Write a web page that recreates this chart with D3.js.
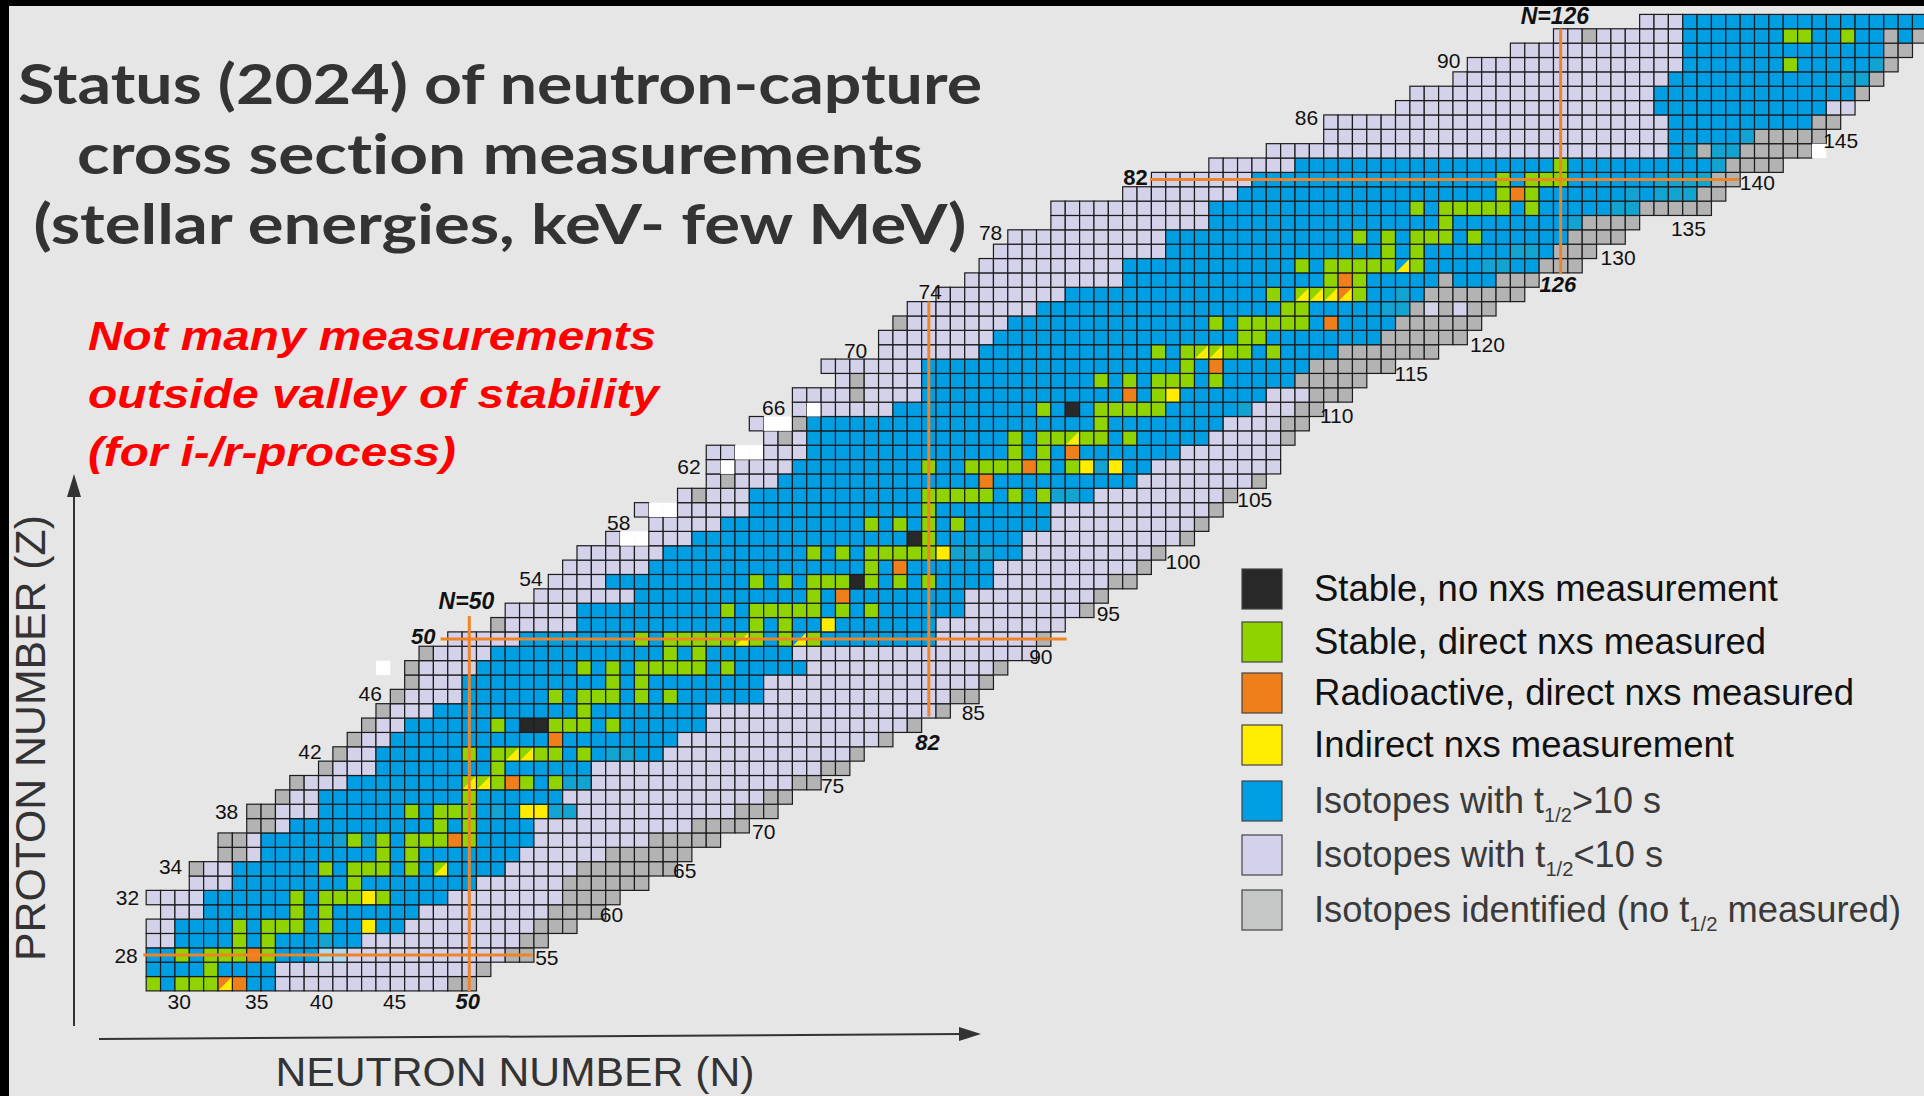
<!DOCTYPE html>
<html><head><meta charset="utf-8">
<script src="https://cdn.jsdelivr.net/npm/d3@7"></script>
<style>
html,body{margin:0;padding:0;background:#e6e6e6;}
svg{display:block;}
</style></head><body>
<svg id="chart" width="1924" height="1096"></svg>
<script>
// ---------------- DATA ----------------
const rowZ = d3.range(26, 94);
const rowStart = [28,28,28,28,28,29,28,31,31,33, 33,35,35,37,38,40,41,42,43,44, 45,46,46,47,49,52,53,55,56,57,
  58,60,63,62,65,67,67,67,71,70, 73,73,76,75,79,79,80,81,83,85, 86,87,88,91,91,96,98,102,106,110, 110,115,116,119,120,123,126,132];
const rowLeftGray = [0,0,0,0,0,0,0,0,1,2, 2,2,2,1,1,1,1,1,1,1, 1,1,1,1,0,1,0,0,0,0,
  0,0,0,0,0,0,0,0,0,0, 0,0,0,0,0,0,1,0,0,0, 0,0,0,0,0,0,0,0,0,0, 0,0,0,0,0,0,0,0];
const rowBlueFirst = [28,28,28,30,30,32,32,34,34,36, 36,38,40,40,42,44,44,45,46,48, 50,50,51,52,54,58,58,62,60,63,
  64,66,68,70,70,72,73,74,74,74, 80,82,82,82,86,87,88,90,92,96, 96,99,99,102,102,104,105,108,134,134, 134,133,133,134,135,135,135,135];
const rowBlueLast = [36,36,41,42,45,46,48,50,52,53, 54,54,57,56,58,58,63,64,66,66, 70,70,73,72,82,82,84,84,86,86,
  88,88,90,90,93,96,97,99,101,102, 104,105,107,108,110,113,114,115,116,121, 124,125,126,127,131,135,136,137,138,139, 143,144,146,147,148,148,148,153];
const rowGrayFirst = [49,51,53,54,55,56,57,57,58,60, 63,66,69,71,73,75,77,79,81,83, 84,86,87,90,90,92,93,94,95,97,
  98,100,101,102,103,105,107,107,107,107, 108,109,108,109,111,114,115,116,117,122, 125,126,127,128,132,136,137,138,139,140, 144,147,147,148,149,149,149,154];
const rowEnd = [50,51,54,55,57,59,60,62,64,65, 67,69,71,72,74,76,77,79,81,83, 85,86,87,89,90,91,93,94,96,97,
  98,100,101,102,103,105,106,106,107,108, 109,111,112,114,117,119,120,121,123,124, 127,128,130,131,136,137,138,141,143,144, 145,146,147,148,149,150,151,153];

// [Z, [N of stable isotopes with direct measurement]]
const stableIsotopes = [
 [26,[28,30,31,32]],[27,[32]],[28,[30,32,33,34,36]],[29,[34,36]],[30,[34,36,37,38,40]],
 [31,[38,40]],[32,[38,40,41,42,44]],[33,[42]],[34,[40,42,43,44,46]],[35,[44,46]],
 [36,[42,44,46,47,48,50]],[37,[48,50]],[38,[46,48,49,50]],[39,[50]],[40,[52,54,56]],
 [41,[52]],[42,[50,52,55,56,58]],[44,[52,54,55,56,57,58,60]],[45,[58]],[46,[56,58,59,60,62,64]],
 [47,[60,62]],[48,[58,60,62,63,64,65,66,68]],[49,[64,66]],[50,[62,64,65,66,67,68,70,72,74]],
 [51,[70,72]],[52,[68,70,71,72,73,74,76,78]],[53,[74]],[54,[70,72,74,75,76,78,80,82]],
 [55,[78]],[56,[74,76,78,79,80,81,82]],[57,[82]],[58,[78,80,82,84]],[59,[82]],
 [60,[82,83,84,85,86,88,90]],[62,[82,85,86,87,88,90,92]],[63,[88,90]],[64,[88,90,91,93,94,96]],
 [65,[94]],[66,[90,94,95,96,97,98]],[67,[98]],[68,[94,96,98,99,100,102]],[69,[100]],
 [70,[98,100,103,104,106]],[71,[104,105]],[72,[102,104,105,106,107,108]],[73,[107,108]],
 [74,[106,112]],[75,[110,112]],[76,[108,110,111,112,113,114,116]],[77,[114,116]],
 [78,[112,114,116,117,118,120]],[79,[118]],[80,[116,118,119,120,121,122,124]],[81,[122,124]],
 [82,[122,124,125,126]],[83,[126]],[90,[142]],[92,[142,143,146]]
];
// [N, Z]
const stableNoMeasurement = [[54,44],[55,44],[77,54],[81,57],[92,66]];
const radioactiveMeasured = [[34,26],[35,28],[49,36],[53,40],[56,43],[76,53],[80,55],[86,61],[89,62],[92,63],
  [96,67],[102,69],[110,72],[111,75],[123,81]];
const indirectMeasured = [[43,30],[43,32],[54,38],[55,38],[75,51],[83,56],[93,62],[95,62],[99,67]];
// cells carrying an indirect-measurement corner: [N, Z, base category]
const splitCells = [[33,26,'O'],[48,34,'G'],[50,40,'G'],[51,40,'G'],[53,42,'G'],[54,42,'G'],[69,50,'G'],[73,50,'B'],
  [92,64,'G'],[101,70,'G'],[102,70,'G'],[108,74,'G'],[109,74,'G'],[110,74,'G'],[111,74,'O'],[115,76,'B']];
// individual cells differing from their row pattern: [N, Z, category]
const cellOverrides = [
 [40,28,'P'],[41,28,'P'],
 [40,29,'T'],[41,36,'T'],[43,36,'T'],[52,38,'T'],[56,38,'T'],[57,38,'T'],[57,40,'T'],[58,40,'T'],[60,42,'T'],[61,42,'T'],
 [84,56,'T'],[85,56,'T'],[86,56,'T'],[91,60,'T'],[92,60,'T'],[94,62,'T'],[104,66,'T'],[114,73,'T'],[115,73,'T'],[115,74,'T'],
 [121,76,'T'],[122,76,'T'],[123,77,'T'],[124,77,'T'],[127,79,'T'],[130,80,'T'],[131,80,'T'],
 [131,81,'T'],[133,81,'T'],[134,81,'T'],[135,81,'T'],[133,82,'T'],[134,82,'T'],[135,82,'T'],[136,82,'T'],
 [137,83,'T'],[135,84,'T'],[137,84,'T'],[138,84,'T'],[139,85,'T'],[146,89,'T'],[147,89,'T'],[148,90,'T'],
 [66,60,'R'],[68,61,'R'],[72,64,'R'],[73,65,'R'],[77,67,'R'],[77,68,'R'],[118,75,'R'],[136,84,'R'],[128,92,'R'],
 [117,73,'L'],[119,73,'L'],[150,92,'B'],
 [61,57,'W'],[62,57,'W'],[63,59,'W'],[64,59,'W'],[68,62,'W'],[69,63,'W'],[70,63,'W'],[71,65,'W'],[72,65,'W'],[74,66,'W'],
 [144,84,'W'],[44,48,'W']
];

const leftTickValues = [28,32,34,38,42,46,50,54,58,62,66,70,74,78,82,86,90];
const leftTickN = [26.1,26.2,29.2,33.1,38.9,43.1,46.8,54.3,60.4,65.3,71.2,76.9,82.1,86.3,96.4,108.3,118.2];
const leftTickZ = [28.0,32.0,34.2,38.0,42.2,46.2,50.2,54.2,58.1,62.0,66.1,70.1,74.2,78.3,82.2,86.3,90.3];
const edgeTickValues = [55,60,65,70,75,82,85,90,95,100,105,110,115,120,126,130,135,140,145];
const edgeTickN = [55.4,59.9,65.0,70.5,75.3,81.9,85.1,89.8,94.5,99.7,104.7,110.4,115.6,120.9,125.8,130.0,134.9,139.7,145.5];
const edgeTickZ = [27.8,30.8,33.9,36.6,39.8,42.8,44.9,48.8,51.8,55.4,59.7,65.6,68.5,70.5,74.7,76.6,78.6,81.8,84.7];
const bottomTickValues = [30,35,40,45,50];
const bottomTickN = [29.8,35.2,39.7,44.8,49.9];
const magicNumbers = [50,82,126];
// magic-number lines: [N, Zfrom, Zto] and [Z, Nfrom, Nto]
const magicVertical = [[50,25.5,51.6],[82,44.6,73.5],[126,75.4,92.5]];
const magicHorizontal = [[28,27.3,54.4],[50,48.0,91.6],[82,97.4,138.4]];

const titleLines = ["Status (2024) of neutron-capture","cross section measurements","(stellar energies, keV- few MeV)"];
const noteLines = ["Not many measurements","outside valley of stability","(for i-/r-process)"];
const legendLabels = [["Stable, no nxs measurement"],["Stable, direct nxs measured"],["Radioactive, direct nxs measured"],
  ["Indirect nxs measurement"],["Isotopes with t","1/2",">10 s"],["Isotopes with t","1/2","<10 s"],
  ["Isotopes identified (no t","1/2"," measured)"]];
const legendKeys = ['K','G','O','Y','B','L','Rl'];

// ---------------- STYLE / LAYOUT ----------------
const colors = {B:'#009fe3',L:'#d4d1ea',R:'#b3b3b3',Rl:'#c6c7c7',T:'#12a3d0',P:'#a9dcf3',W:'#ffffff',
  G:'#8fd400',K:'#282828',O:'#ef7f1a',Y:'#ffec00'};
const cellSize = 14.36;
const svg = d3.select('#chart');
const x = d3.scaleLinear().domain([50,126]).range([469.3, 469.3 + 76*cellSize]);
const y = d3.scaleLinear().domain([28,82]).range([955, 955 - 54*cellSize]);

svg.append('rect').attr('width',1924).attr('height',1096).attr('fill','#e6e6e6');

// build cells
const cells = new Map();
const key = (n,z)=>n+','+z;
rowZ.forEach((z,i)=>{
  for(let n=rowStart[i]; n<=rowEnd[i]; n++){
    let c;
    if(n < rowStart[i]+rowLeftGray[i]) c='R';
    else if(n < rowBlueFirst[i]) c='L';
    else if(n <= rowBlueLast[i]) c='B';
    else if(n < rowGrayFirst[i]) c='L';
    else c='R';
    cells.set(key(n,z),{n,z,c,split:false});
  }
});
cellOverrides.forEach(([n,z,c])=>cells.set(key(n,z),{n,z,c,split:false}));
stableIsotopes.forEach(([z,ns])=>ns.forEach(n=>cells.set(key(n,z),{n,z,c:'G',split:false})));
stableNoMeasurement.forEach(([n,z])=>cells.set(key(n,z),{n,z,c:'K',split:false}));
radioactiveMeasured.forEach(([n,z])=>cells.set(key(n,z),{n,z,c:'O',split:false}));
indirectMeasured.forEach(([n,z])=>cells.set(key(n,z),{n,z,c:'Y',split:false}));
splitCells.forEach(([n,z,b])=>cells.set(key(n,z),{n,z,c:b,split:true}));
const cellData = Array.from(cells.values());

const gCells = svg.append('g');
gCells.selectAll('rect').data(cellData).join('rect')
  .attr('x',d=>x(d.n)-cellSize/2).attr('y',d=>y(d.z)-cellSize/2)
  .attr('width',cellSize).attr('height',cellSize)
  .attr('fill',d=>colors[d.c])
  .attr('stroke',d=>d.c==='W'?'none':'#1c1c1c').attr('stroke-width',1.2);
gCells.selectAll('path').data(cellData.filter(d=>d.split)).join('path')
  .attr('d',d=>{const x0=x(d.n)-cellSize/2+0.8, x1=x(d.n)+cellSize/2-0.8, y0=y(d.z)-cellSize/2+0.8, y1=y(d.z)+cellSize/2-0.8;
     return `M${x0},${y1}L${x1},${y1}L${x1},${y0}Z`;})
  .attr('fill',colors.Y);

// magic lines
const gMagic = svg.append('g').attr('stroke','#ef8426').attr('stroke-width',3);
gMagic.selectAll('line.v').data(magicVertical).join('line').attr('class','v')
  .attr('x1',d=>x(d[0])).attr('x2',d=>x(d[0])).attr('y1',d=>y(d[1])).attr('y2',d=>y(d[2]));
gMagic.selectAll('line.h').data(magicHorizontal).join('line').attr('class','h')
  .attr('y1',d=>y(d[0])).attr('y2',d=>y(d[0])).attr('x1',d=>x(d[1])).attr('x2',d=>x(d[2]));

// tick labels
const labelFont = "'Liberation Sans', Arial, sans-serif";
function tick(g, v, n, z, style){
  g.append('text').attr('x',x(n)).attr('y',y(z)).attr('text-anchor','middle').attr('dy','0.36em')
   .attr('font-family',labelFont).attr('font-size',style==='normal'?21:22)
   .attr('font-weight',style==='normal'?400:700).attr('font-style',style==='bolditalic'?'italic':'normal')
   .attr('fill','#111').text(v);
}
const gTicks = svg.append('g');
leftTickValues.forEach((v,i)=>tick(gTicks,v,leftTickN[i],leftTickZ[i], v===50?'bolditalic':(v===82?'bold':'normal')));
edgeTickValues.forEach((v,i)=>tick(gTicks,v,edgeTickN[i],edgeTickZ[i], magicNumbers.includes(v)?'bolditalic':'normal'));
bottomTickValues.forEach((v,i)=>tick(gTicks,v,bottomTickN[i],24.8, magicNumbers.includes(v)?'bolditalic':'normal'));
[[50,49.8,52.7],[126,125.6,93.4]].forEach(([m,n,z])=>{
  gTicks.append('text').attr('x',x(n)).attr('y',y(z)).attr('dy','0.36em').attr('text-anchor','middle')
   .attr('font-family',labelFont).attr('font-size',23).attr('font-weight',700).attr('font-style','italic')
   .attr('fill','#111').text('N='+m);
});

// frame strips
svg.append('rect').attr('x',0).attr('y',0).attr('width',1924).attr('height',6).attr('fill','#000');
svg.append('rect').attr('x',0).attr('y',0).attr('width',9).attr('height',1096).attr('fill','#000');

// title
const titleLayout = [[500,104,964],[500,174,846],[500,244,933]];
titleLines.forEach((t,i)=>{
  svg.append('text').attr('x',titleLayout[i][0]).attr('y',titleLayout[i][1]).attr('text-anchor','middle')
   .attr('font-family',"Lato, 'Open Sans', sans-serif").attr('font-weight',700).attr('font-size',55)
   .style('font-variant-ligatures','none')
   .attr('fill','#333').attr('textLength',titleLayout[i][2]).attr('lengthAdjust','spacingAndGlyphs').text(t);
});
const noteLayout = [[88,350,568],[88,408,571],[88,466,368]];
noteLines.forEach((t,i)=>{
  svg.append('text').attr('x',noteLayout[i][0]).attr('y',noteLayout[i][1])
   .attr('font-family',labelFont).attr('font-weight',700).attr('font-style','italic').attr('font-size',41)
   .attr('fill','#ff0000').attr('textLength',noteLayout[i][2]).attr('lengthAdjust','spacingAndGlyphs').text(t);
});

// axes arrows and titles
const axisColor = '#333';
svg.append('line').attr('x1',74).attr('y1',1026).attr('x2',74).attr('y2',492).attr('stroke',axisColor).attr('stroke-width',2);
svg.append('path').attr('d','M74,474L67,497L81,497Z').attr('fill',axisColor);
svg.append('line').attr('x1',99).attr('y1',1039).attr('x2',962).attr('y2',1034).attr('stroke',axisColor).attr('stroke-width',2);
svg.append('path').attr('d','M981,1034L959,1027L959,1041Z').attr('fill',axisColor);
svg.append('text').attr('transform','translate(45,738) rotate(-90)').attr('text-anchor','middle')
  .attr('font-family',labelFont).attr('font-size',43).attr('fill','#333')
  .attr('textLength',446).attr('lengthAdjust','spacingAndGlyphs').text('PROTON NUMBER (Z)');
svg.append('text').attr('x',515).attr('y',1086).attr('text-anchor','middle')
  .attr('font-family',labelFont).attr('font-size',41).attr('fill','#333')
  .attr('textLength',479).attr('lengthAdjust','spacingAndGlyphs').text('NEUTRON NUMBER (N)');

// legend
const legendY = [589,642,693,745,801,855,910];
const legendW = [464,452,540,420,347,349,587];
const gLeg = svg.append('g');
legendLabels.forEach((parts,i)=>{
  gLeg.append('rect').attr('x',1242).attr('y',legendY[i]-20).attr('width',40).attr('height',40)
    .attr('fill',colors[legendKeys[i]]).attr('stroke','#444').attr('stroke-width',1.2);
  const t = gLeg.append('text').attr('x',1314).attr('y',legendY[i]+12)
    .attr('font-family',"'Liberation Sans Narrow','Arial Narrow','Liberation Sans',sans-serif")
    .attr('font-size',36).attr('fill',i<4?'#111':'#3a3a3a')
    .attr('textLength',legendW[i]).attr('lengthAdjust','spacingAndGlyphs');
  parts.forEach((p,j)=>{
    const ts = t.append('tspan').text(p);
    if(j===1) ts.attr('font-size',20).attr('dy',9);
    if(j===2) ts.attr('dy',-9);
  });
});
</script></body></html>
